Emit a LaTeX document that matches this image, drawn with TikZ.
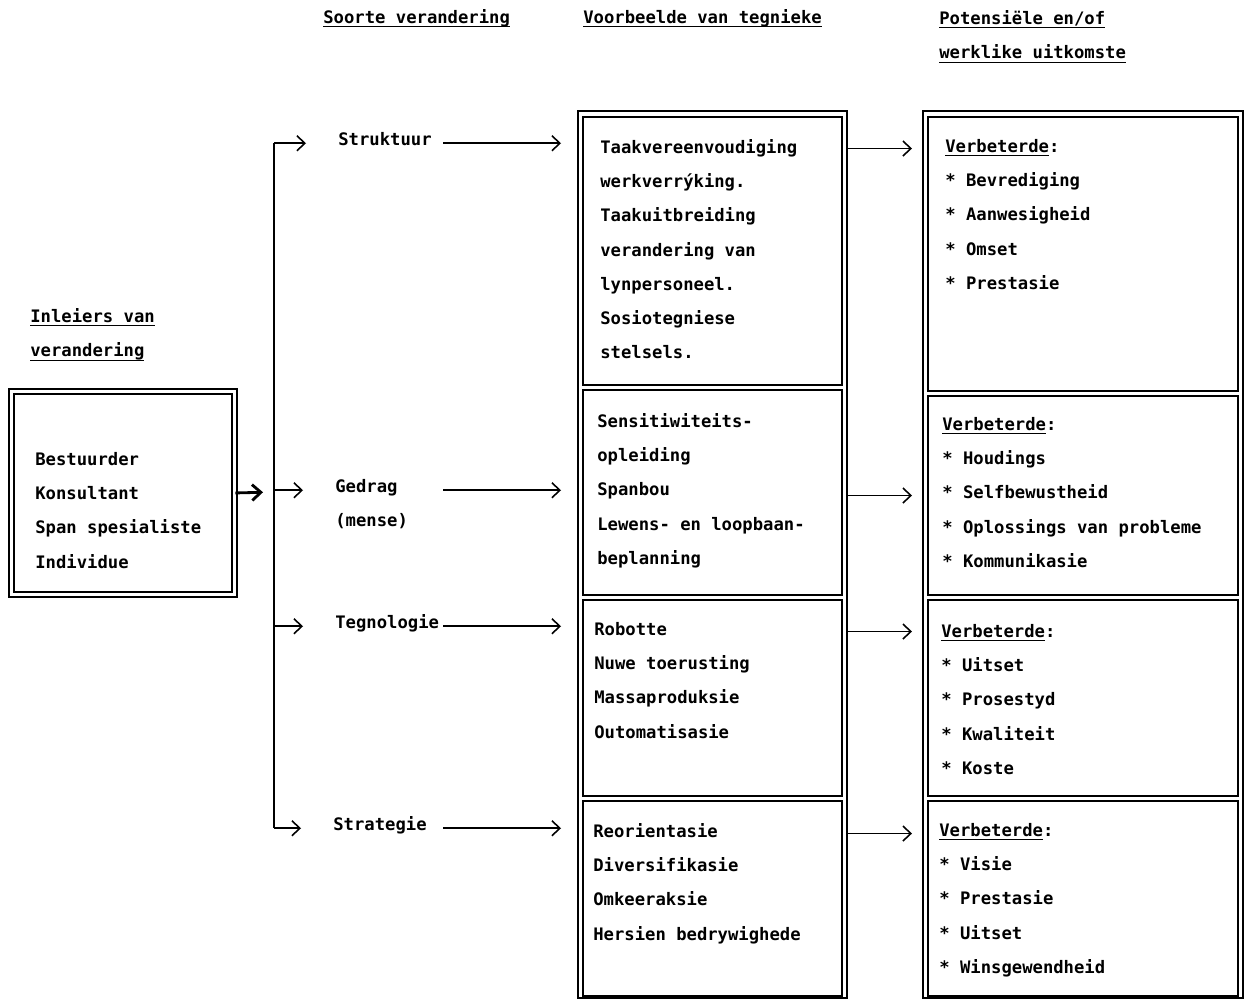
\documentclass[tikz,border=0pt]{standalone}
\usepackage{fontspec}
\newfontfamily\drukker{DejaVu Sans Mono Bold}
\newcommand{\onder}[1]{\setbox0\hbox{#1}\rlap{\rule[-2.3pt]{\wd0}{0.6pt}}\box0}
\usetikzlibrary{positioning,arrows.meta}

\tikzset{
  teks/.style={font=\drukker\fontsize{9.8pt}{19.5pt}\selectfont, inner sep=0pt, align=left},
  soort/.style={teks, anchor=base west, text height=5pt, text depth=3pt},
  raam/.style={draw, line width=1.1pt, inner sep=0pt, anchor=north west},
  pyl/.style={-{Straight Barb[length=4.5pt,width=8.5pt]}, line width=0.9pt},
}

\begin{document}
\begin{tikzpicture}[x=0.02cm, y=-0.02cm]
\useasboundingbox (0,0) rectangle (1247,998);

% opskrifte
\node[teks, anchor=base west] (hdrSoort) at (323,23) {\onder{Soorte verandering}};
\node[teks, anchor=base west] (hdrTegniek) at (583,23) {\onder{Voorbeelde van tegnieke}};
\node[teks, anchor=north west] (hdrUitkoms) at (939,10) {\onder{Potensiële en/of}\\ \onder{werklike uitkomste}};
\node[teks, anchor=north west] (hdrInleier) at (30,308) {\onder{Inleiers van}\\ \onder{verandering}};

% inleiers
\node[raam, double, double distance=1.7pt, minimum width=4.46cm, minimum height=4.06cm] (inleiers) at (10.5,390.5) {};
\node[teks, below right=1.23cm and 0.49cm of inleiers.north west] (inleiersTeks) {Bestuurder\\ Konsultant\\ Span spesialiste\\ Individue};

% soorte verandering
\node[soort] (soortStruktuur) at (338,145) {Struktuur};
\node[soort] (soortGedrag) at (335,492) {Gedrag};
\node[soort] (soortMense) at (335,526) {(mense)};
\node[soort] (soortTegnologie) at (335,628) {Tegnologie};
\node[soort] (soortStrategie) at (333,830) {Strategie};

% voorbeelde van tegnieke
\node[raam, minimum width=5.38cm, minimum height=17.74cm] (tegKolom) at (577,110) {};
\node[raam, minimum width=5.18cm, minimum height=5.36cm] (tegStruktuur) at (582,116) {};
\node[raam, minimum width=5.18cm, minimum height=4.10cm] (tegGedrag) at (582,389) {};
\node[raam, minimum width=5.18cm, minimum height=3.92cm] (tegTegnologie) at (582,599) {};
\node[raam, minimum width=5.18cm, minimum height=3.90cm] (tegStrategie) at (582,800) {};

\node[teks, below right=0.46cm and 0.36cm of tegStruktuur.north west] {Taakvereenvoudiging\\ werkverrýking.\\ Taakuitbreiding\\ verandering van\\ lynpersoneel.\\ Sosiotegniese\\ stelsels.};
\node[teks, below right=0.48cm and 0.30cm of tegGedrag.north west] {Sensitiwiteits-\\ opleiding\\ Spanbou\\ Lewens- en loopbaan-\\ beplanning};
\node[teks, below right=0.46cm and 0.24cm of tegTegnologie.north west] {Robotte\\ Nuwe toerusting\\ Massaproduksie\\ Outomatisasie};
\node[teks, below right=0.46cm and 0.22cm of tegStrategie.north west] {Reorientasie\\ Diversifikasie\\ Omkeeraksie\\ Hersien bedrywighede};

% uitkomste
\node[raam, minimum width=6.4cm, minimum height=17.74cm] (uitKolom) at (922,110) {};
\node[raam, minimum width=6.2cm, minimum height=5.48cm] (uitStruktuur) at (927,116) {};
\node[raam, minimum width=6.2cm, minimum height=3.98cm] (uitGedrag) at (927,395) {};
\node[raam, minimum width=6.2cm, minimum height=3.92cm] (uitTegnologie) at (927,599) {};
\node[raam, minimum width=6.2cm, minimum height=3.90cm] (uitStrategie) at (927,800) {};

\node[teks, below right=0.46cm and 0.36cm of uitStruktuur.north west] {\onder{Verbeterde}:\\ * Bevrediging\\ * Aanwesigheid\\ * Omset\\ * Prestasie};
\node[teks, below right=0.44cm and 0.30cm of uitGedrag.north west] {\onder{Verbeterde}:\\ * Houdings\\ * Selfbewustheid\\ * Oplossings van probleme\\ * Kommunikasie};
\node[teks, below right=0.50cm and 0.28cm of uitTegnologie.north west] {\onder{Verbeterde}:\\ * Uitset\\ * Prosestyd\\ * Kwaliteit\\ * Koste};
\node[teks, below right=0.46cm and 0.24cm of uitStrategie.north west] {\onder{Verbeterde}:\\ * Visie\\ * Prestasie\\ * Uitset\\ * Winsgewendheid};

% verbindings
\coordinate (spine) at (274,492);
\coordinate (stert) at (443,0);
\draw[-{Straight Barb[length=5pt,width=9pt]}, line width=1.6pt, shorten >=0.22cm] (inleiers.east) -- (spine);
\draw[line width=0.9pt] (spine |- soortStruktuur.east) -- (spine |- soortStrategie.east);
\foreach \s in {Struktuur, Gedrag, Tegnologie, Strategie} {
  \draw[pyl, shorten >=0.64cm] (spine |- soort\s.east) -- (soort\s.west);
  \draw[pyl, shorten >=0.42cm] (stert |- soort\s.east) -- (teg\s.west |- soort\s.east);
  \draw[pyl, shorten <=0.1cm, shorten >=0.3cm] ([yshift=-3pt]teg\s.east |- soort\s.east) -- ([yshift=-3pt]uit\s.west |- soort\s.east);
}
\end{tikzpicture}
\end{document}
